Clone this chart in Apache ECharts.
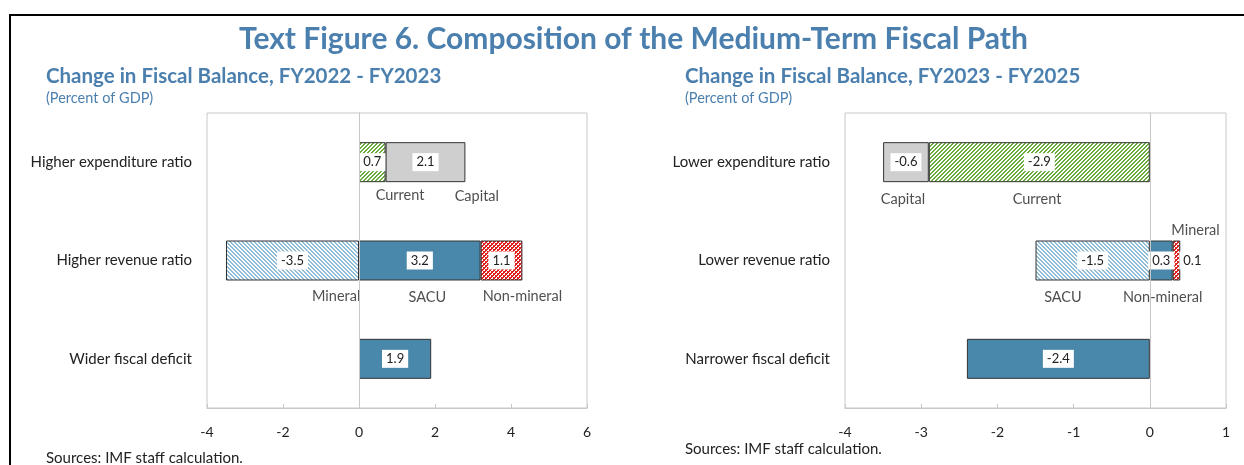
<!DOCTYPE html>
<html><head><meta charset="utf-8">
<script src="https://cdn.jsdelivr.net/npm/echarts@6/dist/echarts.min.js"></script>
<style>html,body{margin:0;padding:0;background:#fff}#c{width:1244px;height:465px}</style>
</head><body><div id="c"></div>
<script>
// ---------- DATA ----------
const catsLeft = ['Higher expenditure ratio', 'Higher revenue ratio', 'Wider fiscal deficit'];
const catsRight = ['Lower expenditure ratio', 'Lower revenue ratio', 'Narrower fiscal deficit'];
const ticksLeft = [-4, -2, 0, 2, 4, 6];
const ticksRight = [-4, -3, -2, -1, 0, 1];

// Left panel: FY2022 - FY2023
const leftCurrent    = [0.7, '-', '-'];
const leftCapital    = [2.1, '-', '-'];
const leftMineral    = ['-', -3.5, '-'];
const leftSACU       = ['-', 3.2, '-'];
const leftNonMineral = ['-', 1.1, '-'];
const leftDeficit    = ['-', '-', 1.9];

// Right panel: FY2023 - FY2025
const rightCurrent    = [-2.9, '-', '-'];
const rightCapital    = [-0.6, '-', '-'];
const rightSACU       = ['-', -1.5, '-'];
const rightNonMineral = ['-', 0.3, '-'];
const rightMineral    = ['-', 0.1, '-'];
const rightDeficit    = ['-', '-', -2.4];

// Component name annotations: [text, value anchor, row]
const annLeft = [['Current', 1.08, 0], ['Capital', 3.1, 0], ['Mineral', -0.6, 1], ['SACU', 1.8, 1], ['Non-mineral', 4.3, 1]];
const annRight = [['Capital', -3.24, 0], ['Current', -1.48, 0], ['SACU', -1.14, 1], ['Non-mineral', 0.17, 1], ['Mineral', 0.6, 1]];
// vertical offsets (px) for annotations (style)
const annLeftDy = [33, 34, 36, 37, 36];
const annRightDy = [37, 37, 37, 37, -30];

// ---------- STYLE ----------
const FONT = 'Lato';
const BLUE = '#4a88ab';
const TITLE_BLUE = '#4a7fae';

function pattern(color, dir, check) {
  const s = 4;
  const c = document.createElement('canvas');
  c.width = s; c.height = s;
  const g = c.getContext('2d');
  g.fillStyle = '#fff'; g.fillRect(0, 0, s, s);
  g.fillStyle = color;
  for (let i = 0; i < s; i++) {
    const x = dir > 0 ? (s - 1 - i) : i;
    g.fillRect(x, i, 1, 1);
    g.fillRect((x + 1) % s, i, 1, 1);
  }
  if (check) {
    for (let i = 0; i < s; i++) {
      const x = dir > 0 ? i : (s - 1 - i);
      g.fillRect(x, i, 1, 1);
    }
  }
  return { image: c, repeat: 'repeat' };
}
const GREEN_H = pattern('#6aab3e', 1, false);
const LBLUE_H = pattern('#8fbcd8', -1, false);
const RED_H = pattern('#e0201c', 1, true);
const GRAY = '#d0cfcf';

const valLabel = (pos) => ({
  show: true, position: pos || 'inside', distance: -1, color: '#222', fontFamily: FONT, fontSize: 13,
  backgroundColor: '#fff', padding: [3, 4, 2, 4], formatter: (p) => p.value
});

function bar(name, data, color, axis, stack, labelPos) {
  return {
    type: 'bar', barWidth: 40,
    name, data, stack, xAxisIndex: axis, yAxisIndex: axis,
    itemStyle: { color, borderColor: '#333', borderWidth: 1 },
    label: valLabel(labelPos), z: 2
  };
}
function annSeries(ann, dys, axis) {
  return {
    type: 'scatter', xAxisIndex: axis, yAxisIndex: axis, symbolSize: 1, z: 3, silent: true,
    itemStyle: { color: 'rgba(0,0,0,0)' },
    data: ann.map((a, i) => ({
      value: [a[1], a[2]],
      label: { show: true, formatter: a[0], offset: [0, dys[i]], position: 'inside',
        color: '#222', fontFamily: FONT, fontSize: 14.5 }
    })),
    markLine: { silent: true, symbol: 'none', label: { show: false },
      lineStyle: { color: '#c8c8c8', type: 'solid', width: 1 }, data: [{ xAxis: 0 }] }
  };
}

function xAxis(ticks, grid) {
  return {
    type: 'value', gridIndex: grid, min: ticks[0], max: ticks[ticks.length - 1],
    interval: ticks[1] - ticks[0],
    axisLine: { show: true, lineStyle: { color: '#c8c8c8' } },
    axisTick: { show: true, inside: true, length: 4, lineStyle: { color: '#c8c8c8' } },
    splitLine: { show: false },
    axisLabel: { color: '#222', fontFamily: FONT, fontSize: 14, margin: 17 }
  };
}
function yAxis(cats, grid) {
  return {
    type: 'category', gridIndex: grid, data: cats, inverse: true,
    axisLine: { show: true, lineStyle: { color: '#c8c8c8' } },
    axisTick: { show: false },
    axisLabel: { color: '#222', fontFamily: FONT, fontSize: 15, margin: 15 }
  };
}

const chart = echarts.init(document.getElementById('c'), null, { renderer: 'canvas' });
chart.setOption({
  animation: false,
  backgroundColor: '#fff',
  title: [
    { text: 'Text Figure 6. Composition of the Medium-Term Fiscal Path', left: 239, top: 24, padding: 0,
      textStyle: { color: TITLE_BLUE, fontFamily: FONT, fontWeight: 'bold', fontSize: 30 } },
    { text: 'Change in Fiscal Balance, FY2022 - FY2023', left: 46, top: 66, padding: 0,
      textStyle: { color: TITLE_BLUE, fontFamily: FONT, fontWeight: 'bold', fontSize: 20.5 } },
    { text: '(Percent of GDP)', left: 46, top: 91, padding: 0,
      textStyle: { color: TITLE_BLUE, fontFamily: FONT, fontWeight: 'normal', fontSize: 14.5 } },
    { text: 'Change in Fiscal Balance, FY2023 - FY2025', left: 685, top: 66, padding: 0,
      textStyle: { color: TITLE_BLUE, fontFamily: FONT, fontWeight: 'bold', fontSize: 20.5 } },
    { text: '(Percent of GDP)', left: 685, top: 91, padding: 0,
      textStyle: { color: TITLE_BLUE, fontFamily: FONT, fontWeight: 'normal', fontSize: 14.5 } }
  ],
  grid: [
    { left: 207, top: 113, width: 380, height: 295, show: true, borderColor: '#c8c8c8', borderWidth: 1, backgroundColor: 'transparent' },
    { left: 845, top: 113, width: 381, height: 295, show: true, borderColor: '#c8c8c8', borderWidth: 1, backgroundColor: 'transparent' }
  ],
  xAxis: [xAxis(ticksLeft, 0), xAxis(ticksRight, 1)],
  yAxis: [yAxis(catsLeft, 0), yAxis(catsRight, 1)],
  graphic: [
    { type: 'rect', shape: { x: 10, y: 15, width: 1400, height: 600 }, style: { fill: 'none', stroke: '#000', lineWidth: 2 }, z: 100 },
    { type: 'text', left: 46, top: 451, style: { text: 'Sources: IMF staff calculation.', fill: '#222', font: '15px ' + FONT } },
    { type: 'text', left: 685, top: 442, style: { text: 'Sources: IMF staff calculation.', fill: '#222', font: '15px ' + FONT } }
  ],
  series: [
    bar('Current', leftCurrent, GREEN_H, 0, 'L'),
    bar('Capital', leftCapital, GRAY, 0, 'L'),
    bar('Mineral', leftMineral, LBLUE_H, 0, 'L'),
    bar('SACU', leftSACU, BLUE, 0, 'L'),
    bar('Non-mineral', leftNonMineral, RED_H, 0, 'L'),
    bar('Fiscal deficit', leftDeficit, BLUE, 0, 'L'),
    annSeries(annLeft, annLeftDy, 0),
    bar('Current', rightCurrent, GREEN_H, 1, 'R'),
    bar('Capital', rightCapital, GRAY, 1, 'R'),
    bar('SACU', rightSACU, LBLUE_H, 1, 'R'),
    bar('Non-mineral', rightNonMineral, BLUE, 1, 'R'),
    bar('Mineral', rightMineral, RED_H, 1, 'R', 'right'),
    bar('Fiscal deficit', rightDeficit, BLUE, 1, 'R'),
    annSeries(annRight, annRightDy, 1)
  ]
});
</script></body></html>
